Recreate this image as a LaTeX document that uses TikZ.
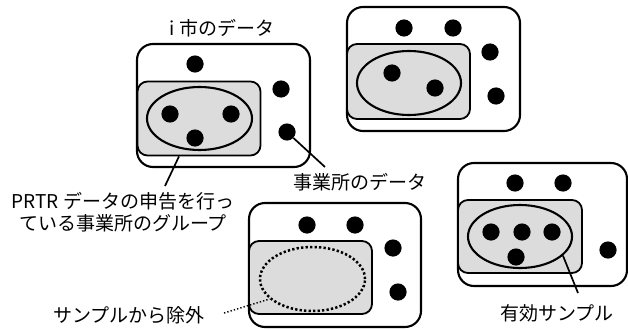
\documentclass[tikz,border=0pt]{standalone}
\usepackage{fontspec}
\setmainfont{Noto Sans CJK JP}
\usetikzlibrary{shapes.geometric}
\definecolor{grayfill}{HTML}{DCDCDC}
\begin{document}
\begin{tikzpicture}[x=1pt,y=-1pt,
  outerbox/.style={draw=black, line width=2.1pt, rounded corners=16pt, fill=white, rectangle, inner sep=0pt},
  innerbox/.style={draw=black, line width=1.8pt, rounded corners=10pt, fill=grayfill, rectangle, inner sep=0pt},
  grp/.style={draw=black, line width=2.1pt, ellipse, inner sep=0pt},
  dotgrp/.style={draw=black, line width=2.5pt, ellipse, inner sep=0pt, dash pattern=on 2.3pt off 2.2pt},
  pt/.style={circle, fill=black, minimum size=17.2pt, inner sep=0pt},
  lbl/.style={font=\fontsize{19}{21.5}\selectfont, align=center, inner sep=0pt},
  leader/.style={draw=black, line width=1.7pt},
  dleader/.style={draw=black, line width=1.4pt, dash pattern=on 1.4pt off 2pt}]
\useasboundingbox (0,0) rectangle (628,329);
% Box 1
\node[outerbox, minimum width=173pt, minimum height=123pt] (o1) at (223.5,105.5) {};
\node[innerbox, minimum width=123pt, minimum height=74pt] (in1) at (199,118.5) {};
\node[grp, minimum width=105pt, minimum height=63pt] (e1) at (199.5,118.5) {};
\node[pt] (d1a) at (195,64) {};
\node[pt] (d1b) at (281,89) {};
\node[pt] (d1c) at (287,132) {};
\node[pt] (d1d) at (170,114) {};
\node[pt] (d1e) at (231,114) {};
\node[pt] (d1f) at (195,138) {};
% Box 2
\node[outerbox, minimum width=173pt, minimum height=124pt] (o2) at (433.5,69) {};
\node[innerbox, minimum width=123pt, minimum height=75pt] (in2) at (408.5,81.5) {};
\node[grp, minimum width=104pt, minimum height=64pt] (e2) at (409,83) {};
\node[pt] (d2a) at (404,28) {};
\node[pt] (d2b) at (453,28) {};
\node[pt] (d2c) at (490,52) {};
\node[pt] (d2d) at (496,96) {};
\node[pt] (d2e) at (392,73) {};
\node[pt] (d2f) at (435,88) {};
% Box 3
\node[outerbox, minimum width=172pt, minimum height=124pt] (o3) at (335,265) {};
\node[innerbox, minimum width=123pt, minimum height=73pt] (in3) at (310.5,277.5) {};
\node[dotgrp, minimum width=105pt, minimum height=64pt] (e3) at (312.5,279) {};
\node[pt] (d3a) at (307,225) {};
\node[pt] (d3b) at (355,225) {};
\node[pt] (d3c) at (393,248) {};
\node[pt] (d3d) at (398,292) {};
% Box 4
\node[outerbox, minimum width=169pt, minimum height=123pt] (o4) at (542.5,224.5) {};
\node[innerbox, minimum width=124pt, minimum height=73pt] (in4) at (520,236.5) {};
\node[grp, minimum width=104pt, minimum height=63pt] (e4) at (520,236.5) {};
\node[pt] (d4a) at (515,183) {};
\node[pt] (d4b) at (563,183) {};
\node[pt] (d4c) at (491,232) {};
\node[pt] (d4d) at (522,232) {};
\node[pt] (d4e) at (552,232) {};
\node[pt] (d4f) at (516,257) {};
\node[pt] (d4g) at (608,250) {};
% Labels
\node[lbl] (t1) at (222,28) {i 市のデータ};
\node[lbl] (prtr) at (123,212) {PRTR データの申告を行っ\\ている事業所のグループ};
\node[lbl] (jigyo) at (360,182) {事業所のデータ};
\node[lbl] (jogai) at (129,315) {サンプルから除外};
\node[lbl] (yuko) at (557,313) {有効サンプル};
% Leaders
\coordinate (c1) at (165,186);
\coordinate (c2) at (325,167);
\coordinate (c3) at (224,313);
\coordinate (c4) at (578,293);
\draw[leader] ([xshift=-20pt]in1.south) -- (c1);
\draw[leader] (d1c.-43) -- (c2);
\draw[dleader] (c3) -- (e3.205);
\draw[leader] (e4.-24) -- (c4);
\end{tikzpicture}
\end{document}
